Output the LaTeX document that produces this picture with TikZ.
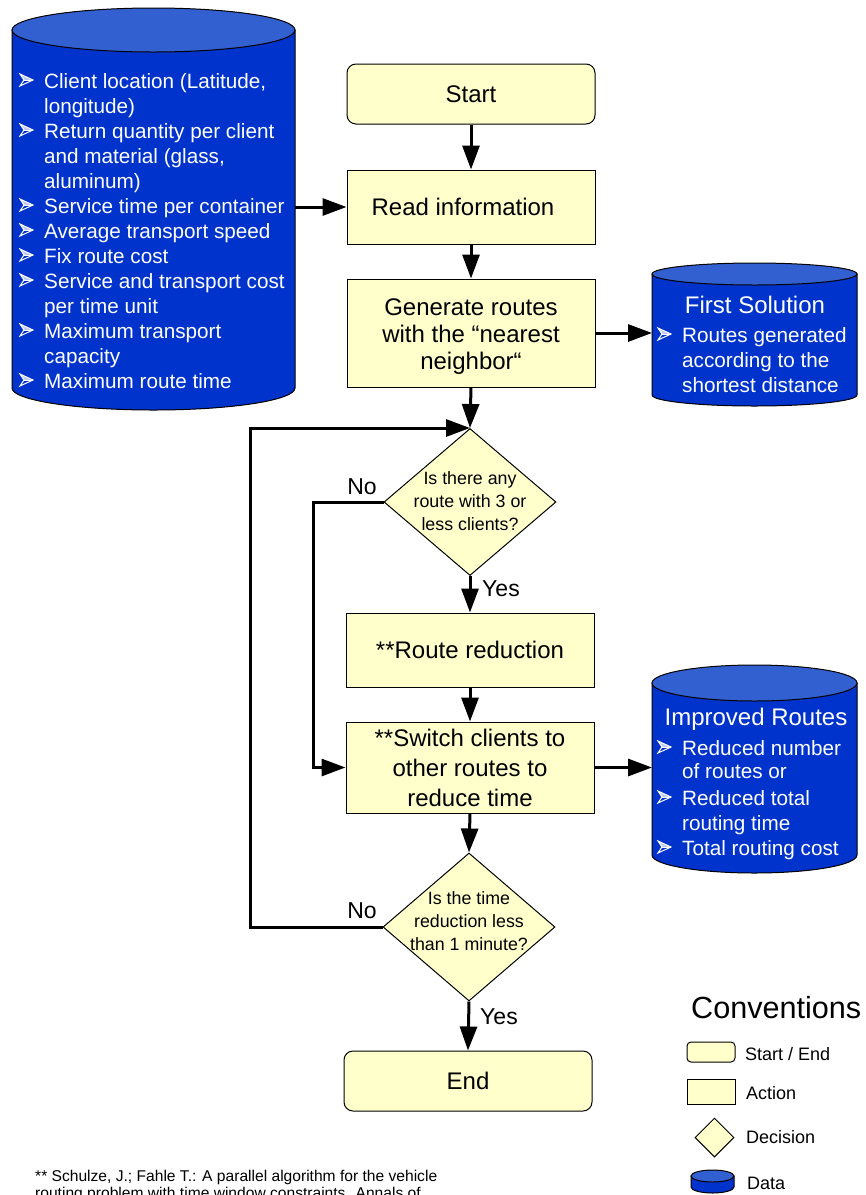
\documentclass[tikz,border=0pt]{standalone}
\usepackage{fontspec}
\setmainfont{Liberation Sans}
\usetikzlibrary{shapes.geometric,arrows.meta}
\definecolor{yel}{HTML}{FFFFCC}
\definecolor{dblue}{HTML}{0033CC}
\definecolor{dtop}{HTML}{3360D0}
\newcommand{\fsz}[2]{\fontsize{#1}{#2}\selectfont}
\newcommand{\cylshape}[5]{%
  \pgfmathsetmacro\crx{(#2-#1)/2}%
  \filldraw[fill=dblue, line width=1pt] (#1,#3) -- (#1,#4) arc[start angle=180, end angle=360, x radius=\crx pt, y radius=#5pt] -- (#2,#3) -- cycle;
  \filldraw[fill=dtop, line width=1pt] ({(#1+#2)/2},#3) ellipse[x radius=\crx pt, y radius=#5pt];
}
\tikzset{arrbul/.pic={
  \fill[white!75!dblue] (0,-14) -- (13,-8) -- (4,-8) -- cycle;
  \draw[white, line width=1pt, line join=miter] (0,-14) -- (13,-8) -- (0,-2) -- (4,-8) -- cycle;
  \draw[white, line width=0.8pt] (4,-8) -- (13,-8);
}}
\begin{document}
\begin{tikzpicture}[x=1pt,y=-1pt,
  box/.style={draw=black, line width=1pt, fill=yel, minimum width=248pt, inner sep=0pt, align=center, font=\fsz{24}{27}},
  term/.style={box, rounded corners=9pt, minimum height=60pt},
  dia/.style={draw=black, line width=1pt, fill=yel, diamond, inner sep=0pt},
  flow/.style={line width=3pt, -{Triangle[length=24pt,width=17pt]}},
  itm/.style={anchor=base west, inner sep=0pt, text=white, font=\fsz{20.7}{25}},
  ttl/.style={anchor=base, inner sep=0pt, text=white, font=\fsz{24}{27}},
  lbl/.style={inner sep=0pt, font=\fsz{23}{25}},
  qtxt/.style={inner sep=0pt, align=center, font=\fsz{17.8}{23}},
  leg/.style={anchor=base west, inner sep=0pt, font=\fsz{18}{20}},
  ghost/.style={inner sep=0pt, outer sep=0pt}
]
\useasboundingbox (0,0) rectangle (866,1195);

% ---------- data cylinders ----------
\cylshape{12}{295}{30}{388}{22}
\node[ghost, minimum width=283pt, minimum height=358pt] (db) at (153.5,209) {};
\foreach \b/\t [count=\i] in {1/{Client location (Latitude,}, 0/{longitude)}, 1/{Return quantity per client}, 0/{and material (glass,}, 0/{aluminum)}, 1/{Service time per container}, 1/{Average transport speed}, 1/{Fix route cost}, 1/{Service and transport cost}, 0/{per time unit}, 1/{Maximum transport}, 0/{capacity}, 1/{Maximum route time}}{
  \node[itm, name=dbl\i] at (44,{88+25*(\i-1)}) {\t};
  \ifnum\b=1 \pic at (20,{88+25*(\i-1)}) {arrbul}; \fi
}

\cylshape{652}{857}{274}{395}{11}
\node[ghost, minimum width=205pt, minimum height=121pt] (fsol) at (754.5,334.5) {};
\node[ttl] (fsolt) at (755,313) {First Solution};
\pic at (658,342) {arrbul};
\node[itm] (fsol1) at (682,342) {Routes generated};
\node[itm] (fsol2) at (682,367) {according to the};
\node[itm] (fsol3) at (682,392) {shortest distance};

\cylshape{652}{857}{683}{855}{18}
\node[ghost, minimum width=205pt, minimum height=172pt] (imp) at (754.5,769) {};
\node[ttl] (impt) at (756,725) {Improved Routes};
\pic at (658,755) {arrbul};
\node[itm] (imp1) at (682,755) {Reduced number};
\node[itm] (imp2) at (682,778) {of routes or};
\pic at (658,805) {arrbul};
\node[itm] (imp3) at (682,805) {Reduced total};
\node[itm] (imp4) at (682,830) {routing time};
\pic at (658,855) {arrbul};
\node[itm] (imp5) at (682,855) {Total routing cost};

% ---------- flow ----------
\node[term] (start) at (471,94) {Start};
\node[box, minimum height=74pt] (read) at (471,207) {\hspace*{-16pt}Read information};
\node[box, minimum height=108pt] (gen) at (471,333) {\rule{0pt}{23pt}Generate routes\\with the “nearest\\neighbor“};
\node[dia, minimum width=172pt, minimum height=147pt] (d1) at (470,502) {};
\node[qtxt] (d1t) at (470,501) {Is there any\\route with 3 or\\less clients?};
\node[box, minimum height=74pt] (red) at (470,650) {**Route reduction};
\node[box, minimum height=91pt, font=\fsz{24}{30}] (sw) at (470,767.5) {**Switch clients to\\other routes to\\reduce time};
\node[dia, minimum width=172pt, minimum height=148pt] (d2) at (469,927) {};
\node[qtxt] (d2t) at (469,921) {Is the time\\reduction less\\than 1 minute?};
\node[term] (end) at (468,1081) {End};

\draw[flow] (start.south) -- (read.north);
\draw[flow] (read.south) -- (gen.north);
\draw[flow] (gen.south) -- (d1.north);
\draw[flow] (d1.south) -- (red.north);
\draw[flow] (red.south) -- (sw.north);
\draw[flow] (sw.south) -- (d2.north);
\draw[flow] (d2.south) -- (end.north);
\draw[flow] (db.east |- read.west) -- (read.west);
\draw[flow] (gen.east) -- (gen.east -| fsol.west);
\draw[flow] (sw.east) -- (sw.east -| imp.west);
\draw[flow] (d1.west) -- ++(-70,0) |- (sw.west);
\draw[flow] (d2.west) -- ++(-132,0) |- (d1.north);

\node[lbl] (no1) at (362,487) {No};
\node[lbl] (yes1) at (501,589) {Yes};
\node[lbl] (no2) at (362,911) {No};
\node[lbl] (yes2) at (499,1017) {Yes};

% ---------- conventions ----------
\node[anchor=base west, inner sep=0pt, font=\fsz{30.6}{32}] (conv) at (691,1018) {Conventions};
\node[draw=black, line width=1pt, fill=yel, rounded corners=4pt, minimum width=48pt, minimum height=20pt, inner sep=0pt] (lgse) at (711,1052) {};
\node[leg] (lgset) at (745,1060) {Start / End};
\node[draw=black, line width=1pt, fill=yel, minimum width=48pt, minimum height=25pt, inner sep=0pt] (lgac) at (711,1091.5) {};
\node[leg] (lgact) at (746,1099) {Action};
\node[dia, minimum width=39pt, minimum height=39pt] (lgdi) at (714.5,1137.5) {};
\node[leg] (lgdit) at (746,1143) {Decision};
\cylshape{691}{734}{1176}{1187}{6}
\node[leg] (lgdat) at (747,1189) {Data};

% ---------- footnote ----------
\node[anchor=base west, inner sep=0pt, font=\fsz{15.6}{17}] (fn1) at (35,1181) {** Schulze, J.; Fahle T.: A parallel algorithm for the vehicle};
\node[anchor=base west, inner sep=0pt, font=\fsz{15.6}{17}] (fn2) at (35,1198) {routing problem with time window constraints. Annals of};
\end{tikzpicture}
\end{document}
